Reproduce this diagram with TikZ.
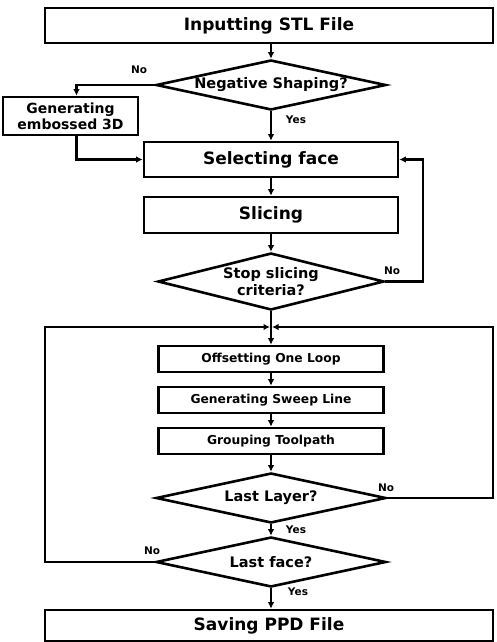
\documentclass[tikz,border=0pt]{standalone}
\usepackage{fontspec}
\setmainfont{DejaVu Sans}
\usetikzlibrary{shapes.geometric,arrows.meta}

\begin{document}
\begin{tikzpicture}[x=1pt,y=-1pt,
  box/.style={draw,line width=2.6pt,inner sep=0pt,font=\bfseries\fontsize{17}{20}\selectfont},
  smallbox/.style={draw,line width=2.6pt,inner sep=0pt,minimum width=225pt,minimum height=26pt,font=\bfseries\fontsize{12.3}{15}\selectfont},
  decision/.style={draw,diamond,line width=2.6pt,inner sep=0pt,align=center,font=\bfseries\fontsize{14.5}{17}\selectfont},
  arr/.style={line width=2.1pt,-{Latex[length=6.5pt,width=6.5pt]}},
  answer/.style={font=\bfseries\fontsize{10.5}{12}\selectfont,inner sep=1pt}]
  \useasboundingbox (0,0) rectangle (496,642);

  \node[box,minimum width=448pt,minimum height=35pt] (input) at (269,25.5) {Inputting STL File};
  \node[decision,minimum width=230pt,minimum height=50pt,aspect=4.6] (neg) at (271,85) {Negative Shaping?};
  \node[box,align=center,minimum width=135pt,minimum height=38pt,font=\bfseries\fontsize{14}{16}\selectfont] (emb) at (70.5,116) {Generating\\embossed 3D};
  \node[box,minimum width=254pt,minimum height=35pt] (sel) at (271,159.5) {Selecting face};
  \node[box,minimum width=254pt,minimum height=36pt] (slice) at (271,215) {Slicing};
  \node[decision,minimum width=226pt,minimum height=57pt,aspect=4] (stop) at (271,281.5) {Stop slicing\\criteria?};

  \coordinate (j) at (271,327);
  \coordinate (loopL) at (45,327);
  \coordinate (loopR) at (493,327);

  \node[smallbox] (off) at (271,359) {Offsetting One Loop};
  \node[smallbox] (sweep) at (271,400) {Generating Sweep Line};
  \node[smallbox] (group) at (271,441) {Grouping Toolpath};
  \node[decision,minimum width=230pt,minimum height=50pt,aspect=4.6] (layer) at (271,498) {Last Layer?};
  \node[decision,minimum width=230pt,minimum height=50pt,aspect=4.6] (face) at (271,562) {Last face?};
  \node[box,minimum width=448pt,minimum height=31pt] (save) at (269,625.5) {Saving PPD File};

  % yes / no
  \node[answer] (no1) at (139,70) {No};
  \node[answer] (yes1) at (296,120) {Yes};
  \node[answer] (no2) at (392,271) {No};
  \node[answer] (no3) at (386,488) {No};
  \node[answer] (yes2) at (296,530) {Yes};
  \node[answer] (no4) at (152,551) {No};
  \node[answer] (yes3) at (298,592) {Yes};

  \draw[arr] (neg.north |- input.south) -- (neg.north);
  \draw[arr] (neg.west) -| ([xshift=6pt]emb.north);
  \draw[arr] (neg.south) -- (sel.north);
  \draw[arr] ([xshift=6pt]emb.south) |- (sel.west);
  \draw[arr] (sel) -- (slice);
  \draw[arr] (slice) -- (stop);
  \draw[arr] (stop.east) -- ++(38,0) |- (sel.east);
  \draw[arr] (stop.south) -- (off.north);
  \draw[arr] (off) -- (sweep);
  \draw[arr] (sweep) -- (group);
  \draw[arr] (group) -- (layer);

  \draw[arr,shorten >=1pt] (layer.east) -| (loopR) -- (j);
  \draw[arr,shorten >=1pt] (face.west) -| (loopL) -- (j);
  \draw[arr] (layer.south) -- (face.north);
  \draw[arr] (face.south) -- (face.south |- save.north);
\end{tikzpicture}
\end{document}
